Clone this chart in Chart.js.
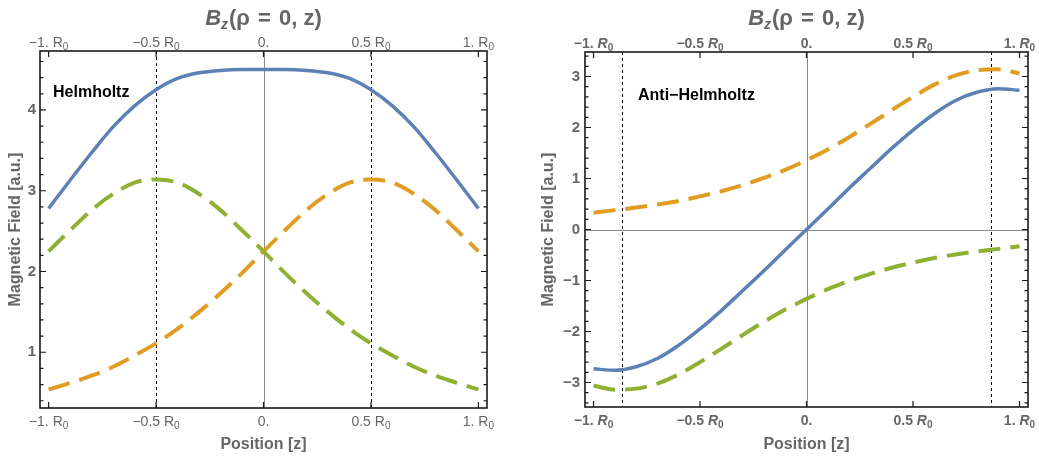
<!DOCTYPE html>
<html><head><meta charset="utf-8">
<script src="https://cdn.jsdelivr.net/npm/chart.js@4/dist/chart.umd.min.js"></script>
<style>
body{margin:0;background:#fff;width:1039px;height:460px;overflow:hidden;position:relative}
.p{position:absolute;top:0;height:460px}
#a{left:0;width:519px}#b{left:519px;width:520px}
</style></head><body>
<div class="p" id="a"><canvas id="c1" width="519" height="460"></canvas></div>
<div class="p" id="b"><canvas id="c2" width="520" height="460"></canvas></div>
<script>
// ---- data ----
const positions = [-1,-0.9,-0.8,-0.7,-0.6,-0.5,-0.4,-0.3,-0.2,-0.1,0,0.1,0.2,0.3,0.4,0.5,0.6,0.7,0.8,0.9,1];
const helmTotal = [2.78,3.13,3.47,3.79,4.05,4.25,4.39,4.46,4.49,4.50,4.50,4.50,4.49,4.46,4.39,4.25,4.05,3.79,3.47,3.13,2.78];
const helmCoilRight = [0.54,0.62,0.71,0.82,0.96,1.11,1.29,1.50,1.73,1.98,2.25,2.51,2.76,2.96,3.10,3.14,3.10,2.96,2.76,2.51,2.25];
const helmCoilLeft = [2.25,2.51,2.76,2.96,3.10,3.14,3.10,2.96,2.76,2.51,2.25,1.98,1.73,1.50,1.29,1.11,0.96,0.82,0.71,0.62,0.54];
const antiTotal = [-2.73,-2.76,-2.69,-2.53,-2.27,-1.95,-1.59,-1.20,-0.81,-0.40,0,0.40,0.81,1.20,1.59,1.95,2.27,2.53,2.69,2.76,2.73];
const antiCoilRight = [0.33,0.38,0.43,0.49,0.56,0.65,0.75,0.87,1.01,1.17,1.36,1.57,1.81,2.07,2.34,2.60,2.84,3.02,3.12,3.14,3.06];
const antiCoilLeft = [-3.06,-3.14,-3.12,-3.02,-2.84,-2.60,-2.34,-2.07,-1.81,-1.57,-1.36,-1.17,-1.01,-0.87,-0.75,-0.65,-0.56,-0.49,-0.43,-0.38,-0.33];
const helmCoilPositions = [-0.5, 0.5];
const antiCoilPositions = [-0.866, 0.866];
const xTickValues = [-1, -0.5, 0, 0.5, 1];
const xTickNumbers = ['\u22121.', '\u22120.5', '0.', '0.5', '1.'];
const helmYTicks = [1, 2, 3, 4];
const antiYTicks = [-3, -2, -1, 0, 1, 2, 3];
const panelLabels = ['Helmholtz', 'Anti\u2212Helmholtz'];

const FAM = "'Liberation Sans', Arial, sans-serif";
const GRAY = '#666666';
const BLUE = '#5E81B5', ORANGE = '#E19C24', GREEN = '#8FB032';

function pts(ys){ return positions.map((x,i)=>({x:x,y:ys[i]})); }

function drawParts(ctx, parts, cx, baseline){
  let w = 0;
  parts.forEach(p=>{ ctx.font = p.font; p.w = ctx.measureText(p.t).width + (p.gap||0); w += p.w; });
  let x = cx - w/2;
  parts.forEach(p=>{ ctx.font = p.font; ctx.fillText(p.t, x, baseline + (p.dy||0)); x += p.w; });
}

const framePlugin = {
  id: 'frame',
  beforeDatasetsDraw(chart, args, o){
    const {ctx, chartArea:a, scales} = chart;
    const x = scales.x, y = scales.y;
    ctx.save();
    ctx.strokeStyle = '#8a8a8a'; ctx.lineWidth = 1;
    const x0 = Math.round(x.getPixelForValue(0)) + 0.5;
    ctx.beginPath(); ctx.moveTo(x0, a.top); ctx.lineTo(x0, a.bottom); ctx.stroke();
    if (y.min < 0 && y.max > 0){
      const y0 = Math.round(y.getPixelForValue(0)) + 0.5;
      ctx.beginPath(); ctx.moveTo(a.left, y0); ctx.lineTo(a.right, y0); ctx.stroke();
    }
    ctx.strokeStyle = '#000'; ctx.setLineDash([3,3]);
    o.coils.forEach(c=>{
      const px = Math.round(x.getPixelForValue(c)) + 0.5;
      ctx.beginPath(); ctx.moveTo(px, a.top); ctx.lineTo(px, a.bottom); ctx.stroke();
    });
    ctx.restore();
  },
  afterDraw(chart, args, o){
    const {ctx, chartArea:a, scales} = chart;
    const x = scales.x, y = scales.y;
    ctx.save();
    // frame
    ctx.strokeStyle = '#1a1a1a'; ctx.lineWidth = 1.6;
    ctx.strokeRect(a.left, a.top, a.right - a.left, a.bottom - a.top);
    ctx.lineWidth = 1.2;
    // x ticks (inward)
    xTickValues.forEach(v=>{
      const px = x.getPixelForValue(v);
      ctx.beginPath();
      ctx.moveTo(px, a.bottom); ctx.lineTo(px, a.bottom - 6);
      ctx.moveTo(px, a.top); ctx.lineTo(px, a.top + 6);
      ctx.stroke();
    });
    // y ticks major + minor
    const first = Math.ceil(y.min / o.minor - 1e-9);
    const last = Math.floor(y.max / o.minor + 1e-9);
    for (let k = first; k <= last; k++){
      const v = k * o.minor;
      const major = Math.abs(v - Math.round(v)) < 1e-6;
      const len = major ? 6 : 3.5;
      const py = y.getPixelForValue(v);
      ctx.beginPath();
      ctx.moveTo(a.left, py); ctx.lineTo(a.left + len, py);
      ctx.moveTo(a.right, py); ctx.lineTo(a.right - len, py);
      ctx.stroke();
    }
    // x tick labels top & bottom
    ctx.fillStyle = GRAY; ctx.textBaseline = 'alphabetic'; ctx.textAlign = 'left';
    const w = o.bold ? 'bold ' : '';
    const base = w + o.tickSize + 'px ' + FAM;
    const rFont = (o.bold ? 'italic bold ' : '') + o.tickSize + 'px ' + FAM;
    const subFont = w + Math.round(o.tickSize*0.72) + 'px ' + FAM;
    xTickValues.forEach((v,i)=>{
      const px = x.getPixelForValue(v);
      const parts = v === 0 ? [{t:xTickNumbers[i], font:base}] :
        [{t:xTickNumbers[i] + ' ', font:base}, {t:'R', font:rFont}, {t:'0', font:subFont, dy:3}];
      drawParts(ctx, parts.map(p=>Object.assign({},p)), px, a.top - 4.5);
      drawParts(ctx, parts.map(p=>Object.assign({},p)), px, a.bottom + 18);
    });
    // title
    ctx.fillStyle = GRAY;
    drawParts(ctx, [
      {t:'B', font:'italic bold 22px ' + FAM},
      {t:'z', font:'italic bold 14px ' + FAM, dy:4, gap:1},
      {t:'(\u03c1 ', font:'bold 22px ' + FAM, gap:2},
      {t:'= ', font:'bold 22px ' + FAM, gap:2},
      {t:'0, z)', font:'bold 22px ' + FAM}
    ], (a.left + a.right)/2, 25);
    // panel label
    ctx.fillStyle = '#000'; ctx.font = 'bold 16px ' + FAM;
    ctx.fillText(o.label, a.left + o.labelDx, o.labelY);
    ctx.restore();
  }
};

function makeChart(id, cfg){
  const lineCommon = {pointRadius:0, fill:false, cubicInterpolationMode:'monotone', borderCapStyle:'butt'};
  return new Chart(document.getElementById(id), {
    type: 'line',
    data: { datasets: [
      Object.assign({data: pts(cfg.left), borderColor: GREEN, borderWidth: 4, borderDash:[22,10]}, lineCommon),
      Object.assign({data: pts(cfg.right), borderColor: ORANGE, borderWidth: 4, borderDash:[22,10]}, lineCommon),
      Object.assign({data: pts(cfg.total), borderColor: BLUE, borderWidth: 3.5}, lineCommon)
    ]},
    options: {
      responsive: false, animation: false, devicePixelRatio: 1,
      layout: {padding: 0},
      plugins: {legend:{display:false}, tooltip:{enabled:false}, frame: cfg.frame},
      scales: {
        x: {type:'linear', axis:'x', position:'bottom', min:-1.04, max:1.04,
            grid:{display:false, drawTicks:false}, border:{display:false}, ticks:{display:false},
            title:{display:true, text:'Position [z]', color:GRAY, font:{family:FAM, size:16, weight:'bold'}, padding:{top:0, bottom:6}},
            afterFit(s){ s.height = cfg.bottomH; }},
        x2: {type:'linear', axis:'x', position:'top', min:-1.04, max:1.04,
            grid:{display:false, drawTicks:false}, border:{display:false}, ticks:{display:false},
            afterFit(s){ s.height = cfg.topH; }},
        y: {type:'linear', axis:'y', position:'left', min:cfg.ymin, max:cfg.ymax,
            afterBuildTicks(s){ s.ticks = cfg.yTicks.map(v=>({value:v})); },
            grid:{display:false, drawTicks:false}, border:{display:false},
            ticks:{color:GRAY, font:{family:FAM, size:15, weight:'bold'}, padding:cfg.yPad,
                   callback:(v)=> String(v).replace('-', '\u2212')},
            title:{display:true, text:'Magnetic Field [a.u.]', color:GRAY, font:{family:FAM, size:16, weight:'bold'}, padding:{top:cfg.yTitlePad, bottom:0}},
            afterFit(s){ s.width = cfg.leftW; }},
        y2: {type:'linear', axis:'y', position:'right', min:cfg.ymin, max:cfg.ymax,
            grid:{display:false, drawTicks:false}, border:{display:false}, ticks:{display:false},
            afterFit(s){ s.width = cfg.rightW; }}
      }
    },
    plugins: [framePlugin]
  });
}

makeChart('c1', {
  left: helmCoilLeft, right: helmCoilRight, total: helmTotal,
  ymin: 0.31, ymax: 4.73, yTicks: helmYTicks,
  leftW: 40, rightW: 32, topH: 51, bottomH: 52, yPad: 4, yTitlePad: 6,
  frame: {coils: helmCoilPositions, minor: 0.2, bold: false, tickSize: 14, label: panelLabels[0], labelDx: 13, labelY: 97}
});
makeChart('c2', {
  left: antiCoilLeft, right: antiCoilRight, total: antiTotal,
  ymin: -3.48, ymax: 3.48, yTicks: antiYTicks,
  leftW: 66, rightW: 11, topH: 52, bottomH: 53, yPad: 5, yTitlePad: 20,
  frame: {coils: antiCoilPositions, minor: 0.2, bold: true, tickSize: 14, label: panelLabels[1], labelDx: 53, labelY: 100}
});
</script>
</body></html>
